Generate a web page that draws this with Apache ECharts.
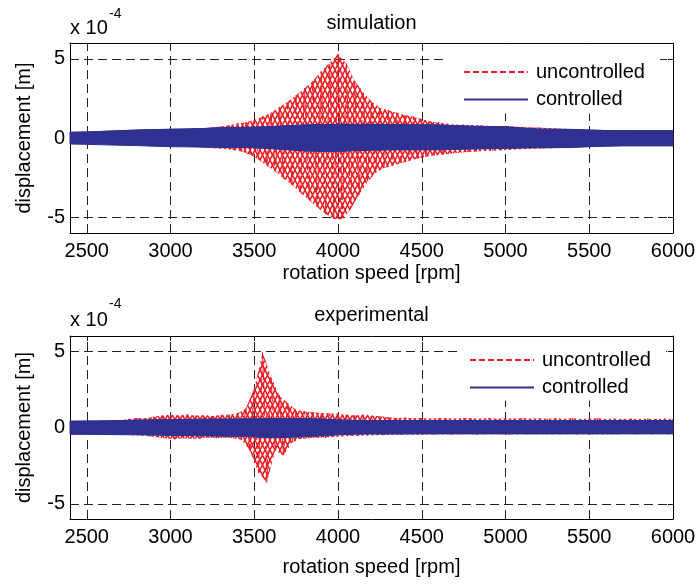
<!DOCTYPE html>
<html>
<head>
<meta charset="utf-8">
<script src="https://cdn.jsdelivr.net/npm/echarts@6/dist/echarts.min.js"></script>
<style>
html,body{margin:0;padding:0;background:#fff;}
#chart{width:699px;height:584px;}
</style>
</head>
<body>
<div id="chart"></div>
<script>
// ---------------- data (displacement in units of 1e-4 m) ----------------
const RPM_START = 2400;      // first sample (rpm)
const UNC_STEP = 25;         // rpm between uncontrolled samples (alternating upper / lower peaks)
const CTRL_STEP = 100;       // rpm between controlled envelope samples

const xTickValues = [2500, 3000, 3500, 4000, 4500, 5000, 5500, 6000];
const yTickValues = [-5, 0, 5];
const titles = ['simulation', 'experimental'];
const seriesNames = ['uncontrolled', 'controlled'];

// simulation, uncontrolled: alternating peak values every 25 rpm from 2400
const simUncontrolled = [
  0.32,-0.33,0.33,-0.34,0.34,-0.35,0.35,-0.35,0.36,-0.37,
  0.37,-0.38,0.39,-0.39,0.40,-0.41,0.42,-0.42,0.43,-0.44,
  0.45,-0.46,0.47,-0.48,0.50,-0.50,0.52,-0.52,0.55,-0.55,
  0.58,-0.58,0.62,-0.62,0.66,-0.66,0.72,-0.70,0.80,-0.76,
  0.92,-0.86,1.00,-1.05,1.13,-1.35,1.35,-1.75,1.60,-2.10,
  1.95,-2.55,2.30,-2.95,2.70,-3.45,3.15,-3.90,3.60,-4.35,
  4.20,-4.80,4.75,-5.10,5.30,-5.15,4.70,-4.50,3.60,-3.60,
  2.90,-2.80,2.30,-2.20,1.90,-1.90,1.76,-1.75,1.60,-1.60,
  1.45,-1.45,1.35,-1.30,1.20,-1.18,1.05,-1.10,0.98,-1.05,
  0.90,-0.98,0.86,-0.93,0.84,-0.88,0.82,-0.85,0.80,-0.82,
  0.78,-0.80,0.76,-0.78,0.74,-0.76,0.72,-0.73,0.70,-0.70,
  0.68,-0.68,0.66,-0.66,0.63,-0.64,0.60,-0.62,0.58,-0.60,
  0.55,-0.58,0.53,-0.56,0.50,-0.55,0.49,-0.53,0.48,-0.52,
  0.47,-0.51,0.47,-0.50,0.46,-0.50,0.46,-0.49,0.45,-0.49,
  0.45,-0.48,0.45,-0.48,0.44
];
// simulation, controlled: band envelope every 100 rpm from 2400
const simControlledUpper = [
  0.36,0.38,0.42,0.46,0.50,0.53,0.55,0.57,0.60,0.65,
  0.66,0.68,0.72,0.78,0.82,0.85,0.86,0.86,0.86,0.85,
  0.84,0.83,0.82,0.78,0.74,0.72,0.71,0.62,0.56,0.55,
  0.54,0.50,0.47,0.46,0.46,0.46,0.46
];
const simControlledLower = [
  -0.38,-0.40,-0.43,-0.46,-0.48,-0.52,-0.55,-0.56,-0.58,-0.60,
  -0.60,-0.62,-0.68,-0.75,-0.82,-0.85,-0.86,-0.80,-0.78,-0.76,
  -0.75,-0.75,-0.75,-0.72,-0.70,-0.68,-0.66,-0.63,-0.61,-0.61,
  -0.60,-0.55,-0.52,-0.50,-0.50,-0.50,-0.50
];

// experimental, uncontrolled: alternating peak values every 25 rpm from 2400
const expUncontrolled = [
  0.40,-0.44,0.42,-0.45,0.43,-0.44,0.42,-0.46,0.45,-0.45,
  0.44,-0.47,0.50,-0.48,0.55,-0.50,0.62,-0.52,0.60,-0.58,
  0.70,-0.65,0.78,-0.72,0.84,-0.77,0.80,-0.70,0.85,-0.74,
  0.78,-0.72,0.82,-0.66,0.76,-0.70,0.84,-0.66,0.84,-0.70,
  0.93,-0.80,1.25,-1.55,2.60,-2.95,4.92,-3.60,3.35,-1.50,
  2.10,-1.85,1.60,-0.99,1.16,-0.75,1.05,-0.70,1.00,-0.68,
  0.95,-0.66,0.92,-0.62,0.90,-0.58,0.84,-0.56,0.80,-0.55,
  0.84,-0.52,0.78,-0.50,0.74,-0.50,0.68,-0.48,0.62,-0.47,
  0.64,-0.46,0.60,-0.47,0.62,-0.45,0.58,-0.46,0.62,-0.45,
  0.60,-0.46,0.58,-0.45,0.62,-0.44,0.60,-0.46,0.58,-0.45,
  0.62,-0.44,0.58,-0.45,0.60,-0.46,0.58,-0.44,0.62,-0.45,
  0.58,-0.44,0.60,-0.45,0.58,-0.44,0.60,-0.45,0.58,-0.44,
  0.60,-0.45,0.56,-0.44,0.58,-0.44,0.60,-0.45,0.56,-0.44,
  0.58,-0.44,0.56,-0.43,0.58,-0.44,0.56,-0.43,0.58,-0.44,
  0.56,-0.43,0.58,-0.44,0.56
];
// experimental, controlled: band envelope every 100 rpm from 2400
const expControlledUpper = [
  0.41,0.42,0.43,0.45,0.48,0.50,0.52,0.53,0.54,0.55,
  0.55,0.56,0.58,0.58,0.57,0.55,0.50,0.47,0.46,0.46,
  0.46,0.45,0.45,0.45,0.45,0.45,0.45,0.45,0.45,0.45,
  0.45,0.45,0.45,0.45,0.45,0.45,0.45
];
const expControlledLower = [
  -0.45,-0.45,-0.46,-0.47,-0.48,-0.50,-0.52,-0.53,-0.55,-0.57,
  -0.58,-0.62,-0.67,-0.65,-0.60,-0.55,-0.48,-0.44,-0.43,-0.43,
  -0.43,-0.42,-0.42,-0.42,-0.42,-0.42,-0.42,-0.42,-0.42,-0.42,
  -0.42,-0.42,-0.42,-0.42,-0.42,-0.42,-0.42
];

// ---------------- chart ----------------
const FONT = "'Liberation Sans', Arial, Helvetica, sans-serif";
const RED = '#ED1C24';
const BLUE = '#2E3192';
const X_MIN = 2400, X_MAX = 6000, Y_MIN = -6, Y_MAX = 6;

// lattice texture for the fast oscillation of the uncontrolled response
function makeLattice() {
  const c = document.createElement('canvas');
  c.width = 5; c.height = 10;
  const ctx = c.getContext('2d');
  ctx.strokeStyle = RED;
  ctx.lineWidth = 1.5;
  ctx.beginPath();
  ctx.moveTo(0, 0); ctx.lineTo(5, 10);
  ctx.moveTo(5, 0); ctx.lineTo(0, 10);
  ctx.stroke();
  return c;
}
const lattice = {image: makeLattice(), repeat: 'repeat'};

const panels = [
  {unc: simUncontrolled, up: simControlledUpper, lo: simControlledLower},
  {unc: expUncontrolled, up: expControlledUpper, lo: expControlledLower}
];

const grids = [
  {left: 70, top: 43, width: 603, height: 190},
  {left: 70, top: 336, width: 603, height: 183}
];
const xNameGaps = [30, 38];

const plainNum = v => String(v);

const xAxes = [], yAxes = [], series = [];
grids.forEach((g, gi) => {
  const lab = {fontSize: 20, color: '#000', fontFamily: FONT};
  xAxes.push({
    type: 'value', gridIndex: gi, min: X_MIN, max: X_MAX, position: 'bottom',
    axisLine: {show: true, onZero: false, lineStyle: {color: '#000', width: 1}},
    axisTick: {show: true, inside: true, length: 5, customValues: xTickValues, lineStyle: {color: '#000'}},
    axisLabel: Object.assign({show: true, margin: 8, customValues: xTickValues, formatter: plainNum}, lab),
    splitLine: {show: false},
    name: 'rotation speed [rpm]', nameLocation: 'middle', nameGap: xNameGaps[gi],
    nameTextStyle: lab
  });
  xAxes.push({
    type: 'value', gridIndex: gi, min: X_MIN, max: X_MAX, position: 'top',
    axisLine: {show: true, onZero: false, lineStyle: {color: '#000', width: 1}},
    axisTick: {show: true, inside: true, length: 5, customValues: xTickValues, lineStyle: {color: '#000'}},
    axisLabel: {show: false}, splitLine: {show: false}
  });
  yAxes.push({
    type: 'value', gridIndex: gi, min: Y_MIN, max: Y_MAX, position: 'left',
    axisLine: {show: true, onZero: false, lineStyle: {color: '#000', width: 1}},
    axisTick: {show: true, inside: true, length: 5, customValues: yTickValues, lineStyle: {color: '#000'}},
    axisLabel: Object.assign({show: true, margin: 5, customValues: yTickValues, formatter: plainNum}, lab),
    splitLine: {show: false},
    name: 'displacement [m]', nameLocation: 'middle', nameGap: 36, nameRotate: 90,
    nameTextStyle: lab
  });
  yAxes.push({
    type: 'value', gridIndex: gi, min: Y_MIN, max: Y_MAX, position: 'right',
    axisLine: {show: true, onZero: false, lineStyle: {color: '#000', width: 1}},
    axisTick: {show: true, inside: true, length: 5, customValues: yTickValues, lineStyle: {color: '#000'}},
    axisLabel: {show: false}, splitLine: {show: false}
  });

  const xi = gi * 2, yi = gi * 2;
  const p = panels[gi];

  // dashed grid lines (behind the data)
  series.push({
    type: 'line', name: 'grid' + gi, xAxisIndex: xi, yAxisIndex: yi, z: 1,
    data: [], symbol: 'none', silent: true,
    markLine: {
      z: 1, silent: true, symbol: ['none', 'none'], label: {show: false},
      lineStyle: {color: '#222', width: 1, type: [9, 5]},
      emphasis: {disabled: true},
      data: xTickValues.filter(v => v < X_MAX).map(v => ({xAxis: v}))
        .concat(yTickValues.map(v => ({yAxis: v})))
    }
  });

  // uncontrolled: textured envelope between the upper and lower peaks
  series.push({
    type: 'custom', name: 'uncontrolled envelope ' + gi, xAxisIndex: xi, yAxisIndex: yi, z: 2,
    silent: true,
    data: [[RPM_START, 0]],
    renderItem: function (params, api) {
      const top = [], bot = [];
      p.unc.forEach((v, i) => {
        const pt = api.coord([RPM_START + i * UNC_STEP, v]);
        (i % 2 === 0 ? top : bot).push(pt);
      });
      return {
        type: 'polygon',
        shape: {points: top.concat(bot.reverse())},
        style: {fill: lattice, stroke: null}
      };
    }
  });
  // uncontrolled oscillation (alternating peaks)
  series.push({
    type: 'line', name: seriesNames[0], xAxisIndex: xi, yAxisIndex: yi, z: 3,
    data: p.unc.map((v, i) => [RPM_START + i * UNC_STEP, v]),
    symbol: 'none', showSymbol: false,
    lineStyle: {color: RED, width: 1, type: [6, 3]},
    itemStyle: {color: RED}
  });

  // controlled: upper edge line (also gives the legend entry)
  series.push({
    type: 'line', name: seriesNames[1], xAxisIndex: xi, yAxisIndex: yi, z: 5,
    data: p.up.map((v, i) => [RPM_START + i * CTRL_STEP, v]),
    symbol: 'none', showSymbol: false,
    lineStyle: {color: BLUE, width: 1},
    itemStyle: {color: BLUE}
  });
  // controlled: filled band between lower and upper envelope
  series.push({
    type: 'custom', name: 'controlled band ' + gi, xAxisIndex: xi, yAxisIndex: yi, z: 4,
    silent: true,
    data: [[RPM_START, 0]],
    renderItem: function (params, api) {
      const top = p.up.map((v, i) => api.coord([RPM_START + i * CTRL_STEP, v]));
      const bot = p.lo.map((v, i) => api.coord([RPM_START + i * CTRL_STEP, v])).reverse();
      return {
        type: 'polygon',
        shape: {points: top.concat(bot)},
        style: {fill: BLUE, stroke: BLUE, lineWidth: 1}
      };
    }
  });
});

const legendBase = {
  orient: 'vertical', data: seriesNames, backgroundColor: '#fff', z: 10,
  itemWidth: 64, itemHeight: 10, itemGap: 7.5, selectedMode: false,
  itemStyle: {opacity: 0},
  textStyle: {fontSize: 20, color: '#000', fontFamily: FONT, lineHeight: 20, padding: [0, 0, 0, 3]}
};
const legends = [
  Object.assign({left: 447, top: 44, padding: [18, 15, 4, 16]}, legendBase),
  Object.assign({left: 460, top: 337, padding: [13, 15, 3, 9]}, legendBase)
];

const titleY = [23, 315];
const expY = [[28.5, 14], [320, 304]];
const graphic = [];
titles.forEach((t, i) => {
  graphic.push({type: 'text', x: 371.5, y: titleY[i], z: 20,
    style: {text: t, fontSize: 20, fontFamily: FONT, fill: '#000', textAlign: 'center', textVerticalAlign: 'middle'}});
  graphic.push({type: 'text', x: 70, y: expY[i][0], z: 20,
    style: {text: 'x 10', fontSize: 20, fontFamily: FONT, fill: '#000', textAlign: 'left', textVerticalAlign: 'middle'}});
  graphic.push({type: 'text', x: 109, y: expY[i][1], z: 20,
    style: {text: '-4', fontSize: 14, fontFamily: FONT, fill: '#000', textAlign: 'left', textVerticalAlign: 'middle'}});
});

const chart = echarts.init(document.getElementById('chart'), null, {renderer: 'canvas'});
chart.setOption({
  animation: false,
  backgroundColor: '#fff',
  grid: grids.map(g => Object.assign({containLabel: false}, g)),
  xAxis: xAxes,
  yAxis: yAxes,
  legend: legends,
  series: series,
  graphic: graphic
});
</script>
</body>
</html>
